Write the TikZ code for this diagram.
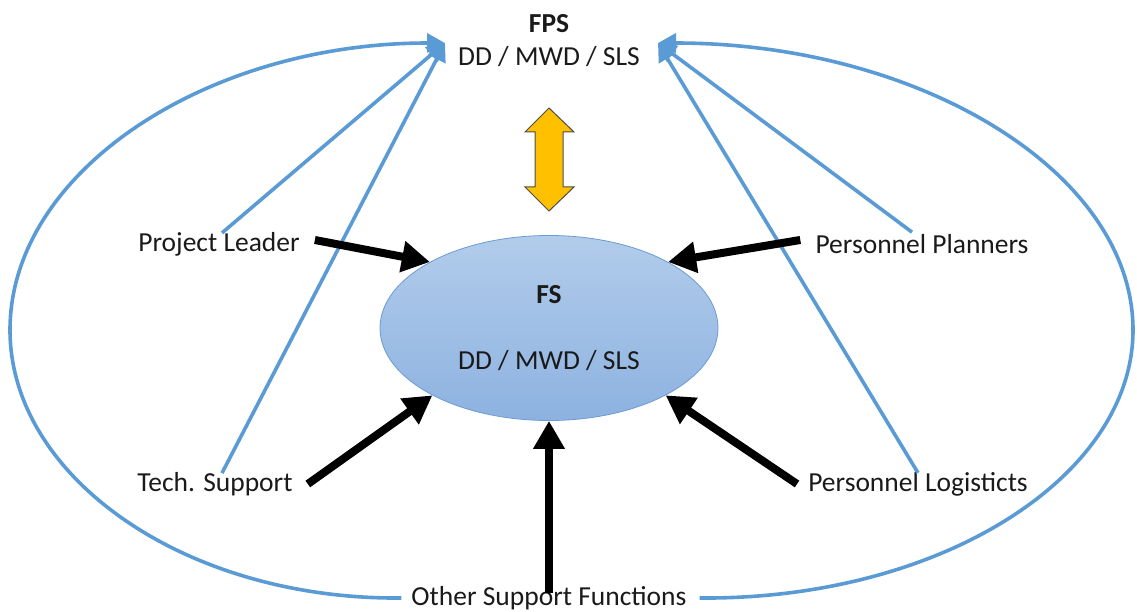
\documentclass[tikz,border=0pt]{standalone}
\usepackage{fontspec}
\setmainfont{Carlito}
\usetikzlibrary{shapes.geometric,arrows.meta}
\definecolor{bl}{HTML}{5B9BD5}
\definecolor{ellborder}{HTML}{6C9BD2}
\definecolor{elltop}{HTML}{B2CCEB}
\definecolor{ellbot}{HTML}{8DB2E0}
\definecolor{gold}{HTML}{FFC000}
\definecolor{txt}{HTML}{1A1A1A}
\begin{document}
\begin{tikzpicture}[x=1pt,y=-1pt,
  lbl/.style={font=\fontsize{27.5}{33}\selectfont, inner sep=5pt, text=txt},
  blueline/.style={draw=bl, line width=3.6pt, -{Triangle[length=18pt,width=19pt]}},
  blk/.style={draw=black, line width=8pt, -{Triangle[length=28pt,width=30pt]}},
  ]
\useasboundingbox (0,0) rectangle (1137,612);

% nodes
\node[lbl, align=center] (fps) at (549,41) {\textbf{FPS}\\DD / MWD / SLS};
\node[lbl, ellipse, draw=ellborder, line width=0.8pt, top color=elltop, bottom color=ellbot,
      minimum width=338pt, minimum height=185pt, align=center] (fs) at (549,328)
      {\textbf{FS}\\[33pt]DD / MWD / SLS};
\node[lbl] (pl) at (219,244) {Project Leader};
\node[lbl] (pp) at (922,244) {Personnel Planners};
\node[lbl] (ts) at (215,484) {Tech. Support};
\node[lbl] (plog) at (918,484) {Personnel Logisticts};
\node[lbl] (osf) at (549,598) {Other Support Functions};

\coordinate (fpsL) at (445,43);
\coordinate (fpsR) at (658,43);

% blue connectors
\draw[blueline] ([xshift=3pt,yshift=-6pt]pl.north) -- (fpsL);
\draw[blueline] ([xshift=7pt,yshift=-6pt]ts.north) -- (fpsL);
\draw[blueline] ([xshift=-10pt,yshift=-3pt]pp.north) -- (fpsR);
\draw[blueline] ([xshift=0pt,yshift=-6pt]plog.north) -- (fpsR);
\draw[blueline] ([xshift=-5pt]osf.west) .. controls (185,600) and (10,477) .. (10,330)
   .. controls (10,172) and (206,43) .. (fpsL);
\draw[blueline] ([xshift=8pt]osf.east) .. controls (940,600) and (1133,477) .. (1133,330)
   .. controls (1133,172) and (919,43) .. (fpsR);

% black connectors
\draw[blk] ([xshift=10pt,yshift=4pt]pl.east) -- (fs.151);
\draw[blk] ([xshift=-10pt,yshift=4pt]pp.west) -- (fs.29);
\draw[blk] ([xshift=10pt]ts.east) -- (fs.210);
\draw[blk] ([xshift=-6pt]plog.west) -- (fs.330);
\draw[blk] ([yshift=-12pt]osf.north) -- (fs.south);

% orange double arrow
\draw[fill=gold, draw=black!70, line width=1pt, line join=miter]
  (549,108) -- (574,132) -- (563,132) -- (563,187) -- (574,187) -- (549,211)
  -- (525,187) -- (535,187) -- (535,132) -- (525,132) -- cycle;
\end{tikzpicture}
\end{document}
